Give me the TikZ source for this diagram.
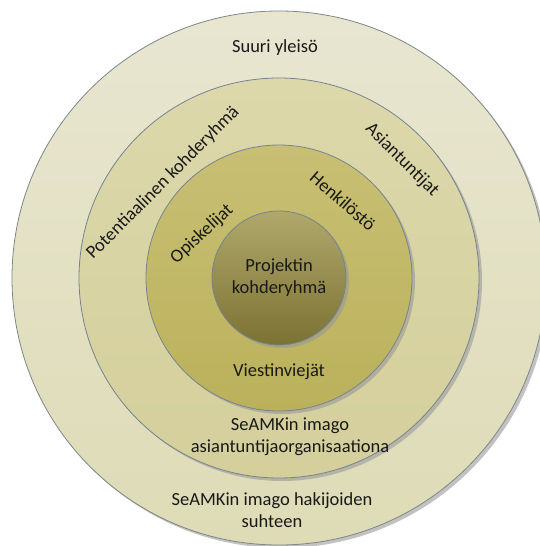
\documentclass[tikz,border=0pt]{standalone}
\usepackage{fontspec}
\setmainfont{Carlito}
\definecolor{outerTop}{HTML}{E8E6D1}
\definecolor{outerBot}{HTML}{DEDBB6}
\definecolor{potTop}{HTML}{DCD8AB}
\definecolor{potBot}{HTML}{D4CF9B}
\definecolor{midTop}{HTML}{C8BF74}
\definecolor{midBot}{HTML}{BBB15B}
\definecolor{coreTop}{HTML}{B0A76B}
\definecolor{coreBot}{HTML}{7B7233}
\definecolor{rimGray}{HTML}{7E8686}
\definecolor{rimBlue}{HTML}{76848F}
\begin{document}
\begin{tikzpicture}[x=1pt,y=-1pt,
  ringline/.style={draw=#1, line width=0.8pt},
  dropshadow/.style={fill=black!40, fill opacity=0.6, draw=none},
  lbl/.style={inner sep=0pt, font=\fontsize{18.5}{22}\selectfont, text=black!90, align=center}]
\useasboundingbox (0,0) rectangle (540,546);
\coordinate (c) at (279,278);
\begin{scope}
\clip (0,0) rectangle (540,546);
% outer disc: general public
\fill[dropshadow] ([shift={(3,3)}]c) circle (267);
\shade[top color=outerTop, bottom color=outerBot] (c) circle (267);
\draw[ringline=rimGray] (c) circle (267);
% second disc: potential target group
\fill[dropshadow] ([shift={(3,3)}]c) circle (200);
\shade[top color=potTop, bottom color=potBot] (c) circle (200);
\draw[ringline=rimBlue] (c) circle (200);
% third disc: students and staff
\fill[dropshadow] ([shift={(3,3)}]c) circle (133);
\shade[top color=midTop, bottom color=midBot] (c) circle (133);
\draw[ringline=rimBlue] (c) circle (133);
% core disc: project target group
\fill[dropshadow] ([shift={(3,3)}]c) circle (67);
\shade[top color=coreTop, bottom color=coreBot] (c) circle (67);
\draw[ringline=rimBlue] (c) circle (67);
\end{scope}
% labels
\node[lbl] (suuri) at (275,48) {Suuri yleisö};
\node[lbl, rotate=45] (potent) at (163,183) {Potentiaalinen kohderyhmä};
\node[lbl, rotate=-45] (asiant) at (402,160) {Asiantuntijat};
\node[lbl, rotate=-41] (henk) at (343,201) {Henkilöstö};
\node[lbl, rotate=43] (opisk) at (202,234) {Opiskelijat};
\node[lbl] (proj) at (279,278) {Projektin\\kohderyhmä};
\node[lbl] (viest) at (279,372) {Viestinviejät};
\node[lbl] (imago1) at (290,437) {SeAMKin imago\\asiantuntijaorganisaationa};
\node[lbl] (imago2) at (272,510) {SeAMKin imago hakijoiden\\suhteen};
\end{tikzpicture}
\end{document}
